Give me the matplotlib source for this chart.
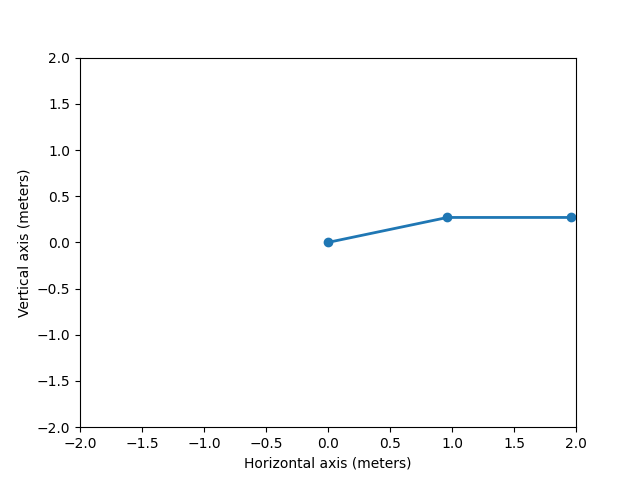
import matplotlib
matplotlib.use("Agg")
import matplotlib.pyplot as plt

x = [0.0, 0.963, 1.963]
y = [0.0, 0.27, 0.27]

fig, ax = plt.subplots(figsize=(6.4, 4.8), dpi=100)
ax.plot(x, y, 'o-', lw=2)
ax.set_xlim(-2, 2)
ax.set_ylim(-2, 2)
ax.set_xlabel("Horizontal axis (meters)")
ax.set_ylabel("Vertical axis (meters)")
fig.savefig("out.png")
